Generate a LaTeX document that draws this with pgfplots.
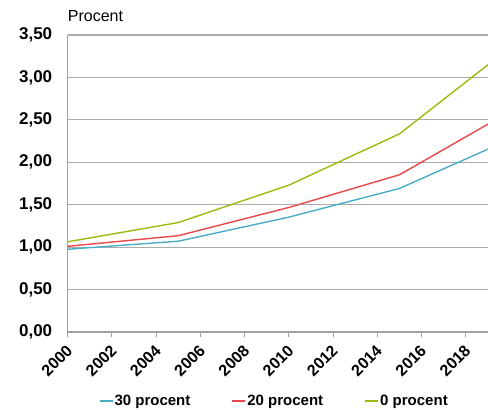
\documentclass[border=0pt]{standalone}
\usepackage{fontspec}
\setmainfont{Liberation Sans}
\usepackage{pgfplots}
\pgfplotsset{compat=1.18}

\definecolor{serBlue}{HTML}{4BACC6}
\definecolor{serRed}{HTML}{E8474C}
\definecolor{serGreen}{HTML}{9BBB0F}
\definecolor{gridGray}{HTML}{ABABAB}
\definecolor{axisGray}{HTML}{A0A0A0}

\begin{document}
\begin{tikzpicture}[x=1pt,y=1pt]
\useasboundingbox (0,0) rectangle (488,410);
\begin{axis}[
  at={(67.7pt,78pt)}, anchor=south west,
  scale only axis,
  width=420.3pt, height=297pt,
  xmin=2000, xmax=2019,
  ymin=0, ymax=3.5,
  axis x line*=bottom,
  axis y line*=left,
  axis line style={axisGray, line width=1.5pt, -},
  xtick={2000,2002,...,2018},
  ytick={0,0.5,...,3.5},
  x tick style={axisGray, line width=1pt},
  y tick style={draw=none},
  major tick length=5pt,
  tick align=outside,
  ymajorgrids,
  grid style={gridGray, line width=1.2pt},
  /pgf/number format/assume math mode=true,
  xticklabel style={font=\fontsize{16}{16}\selectfont\bfseries, rotate=45, anchor=east, yshift=-9pt, xshift=-3pt},
  yticklabel style={font=\fontsize{17}{17}\selectfont\bfseries, xshift=-7pt},
  x tick label style={/pgf/number format/1000 sep={}},
  y tick label style={/pgf/number format/.cd, use comma, fixed, fixed zerofill, precision=2},
  legend columns=-1,
  legend style={draw=none, fill=none, at={(0.49,-0.234)}, anchor=center,
    font=\fontsize{15}{15}\selectfont\bfseries,
    /tikz/every odd column/.append style={column sep=0pt},
    /tikz/every even column/.append style={column sep=40pt},
    nodes={inner sep=1pt}},
  clip mode=individual,
]
\addplot[serBlue, line width=1.4pt,
  legend image code/.code={\draw[serBlue, line width=2pt] (0pt,0pt) -- (13pt,0pt);}]
  coordinates {(2000,0.975) (2005,1.07) (2010,1.354) (2015,1.692) (2019,2.155)};
\addlegendentry{30 procent}
\addplot[serRed, line width=1.4pt,
  legend image code/.code={\draw[serRed, line width=2pt] (0pt,0pt) -- (13pt,0pt);}]
  coordinates {(2000,1.01) (2005,1.135) (2010,1.468) (2015,1.853) (2019,2.45)};
\addlegendentry{20 procent}
\addplot[serGreen, line width=1.4pt,
  legend image code/.code={\draw[serGreen, line width=2pt] (0pt,0pt) -- (13pt,0pt);}]
  coordinates {(2000,1.063) (2005,1.29) (2010,1.731) (2015,2.335) (2019,3.15)};
\addlegendentry{0 procent}
\end{axis}
\node[anchor=base west, inner sep=0pt, font=\fontsize{16}{16}\selectfont]
  at (67.7,388) {Procent};
\end{tikzpicture}
\end{document}
